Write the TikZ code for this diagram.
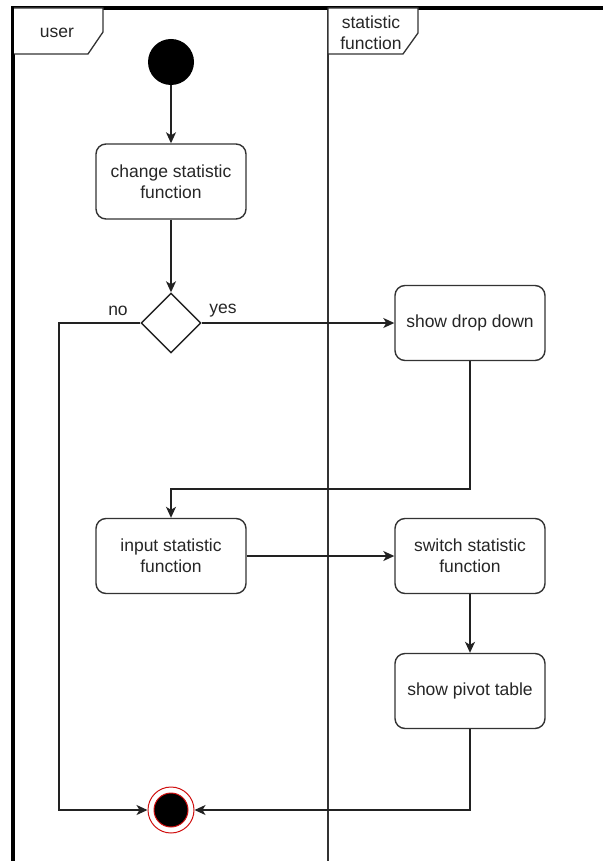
\documentclass[tikz,border=0pt]{standalone}
\usepackage{fontspec}
\setmainfont{Liberation Sans}
\usetikzlibrary{shapes.geometric,arrows.meta}
\definecolor{edge}{HTML}{222222}
\definecolor{lane}{HTML}{333333}
\definecolor{endred}{HTML}{D01010}
\tikzset{
  every node/.style={font=\fontsize{17.5}{21}\selectfont, text=black!85},
  action/.style={draw=lane, line width=1.4pt, rounded corners=10pt, fill=white,
    minimum width=150pt, minimum height=75pt, align=center, inner sep=0pt},
  decision/.style={diamond, draw=edge, line width=1.4pt, fill=white,
    minimum width=60pt, minimum height=60pt, inner sep=0pt},
  arr/.style={draw=edge, line width=1.4pt,
    -{Stealth[length=11pt,width=10pt,inset=3pt]}},
  laneline/.style={draw=lane, line width=1.4pt},
  lanetab/.style={draw=lane, line width=1.3pt, fill=white},
}
\begin{document}
\begin{tikzpicture}[x=1pt,y=-1pt]
  \useasboundingbox (0,0) rectangle (603,861);

  % swimlane frame and divider
  \draw[laneline] (328,8) -- (328,861);
  \draw[line width=4pt] (13,861) -- (13,8) -- (603,8);

  % lane header tabs
  \draw[lanetab] (14,8) -- (103,8) -- (103,32) -- (88,54) -- (14,54);
  \node (userlbl) at (57,33) {user};
  \draw[lanetab] (328,8) -- (418,8) -- (418,33) -- (403,54) -- (328,54) -- cycle;
  \node[align=center] (statlbl) at (371,33) {statistic\\function};

  % activity nodes
  \node[circle, fill=black, minimum size=46pt, inner sep=0pt] (start) at (171,62) {};
  \node[action] (change) at (171,181.5) {change statistic\\function};
  \node[decision] (dec) at (171,323) {};
  \node[action] (drop) at (470,323) {show drop down};
  \node[action] (input) at (171,556) {input statistic\\function};
  \node[action] (switch) at (470,556) {switch statistic\\function};
  \node[action] (pivot) at (470,691) {show pivot table};
  \node[circle, draw=endred, line width=1pt, fill=white, minimum size=46pt, inner sep=0pt] (endo) at (171,810) {};
  \node[circle, draw=endred, line width=1pt, fill=black, minimum size=34pt, inner sep=0pt] (endi) at (171,810) {};

  % guard labels
  \node (nolbl) at (118,311) {no};
  \node (yeslbl) at (223,311) {yes};

  % bend points
  \coordinate (nocorner) at (59,810);
  \coordinate (backturn) at (470,489);

  % control flow
  \draw[arr] (start) -- (change);
  \draw[arr] (change) -- (dec);
  \draw[arr] (dec.east) -- (drop.west);
  \draw[arr] (dec.west) -| (nocorner) -- (endo.west);
  \draw[arr] (drop.south) -- (backturn) -| (input.north);
  \draw[arr] (input) -- (switch);
  \draw[arr] (switch) -- (pivot);
  \draw[arr] (pivot.south) |- (endo.east);
\end{tikzpicture}
\end{document}
